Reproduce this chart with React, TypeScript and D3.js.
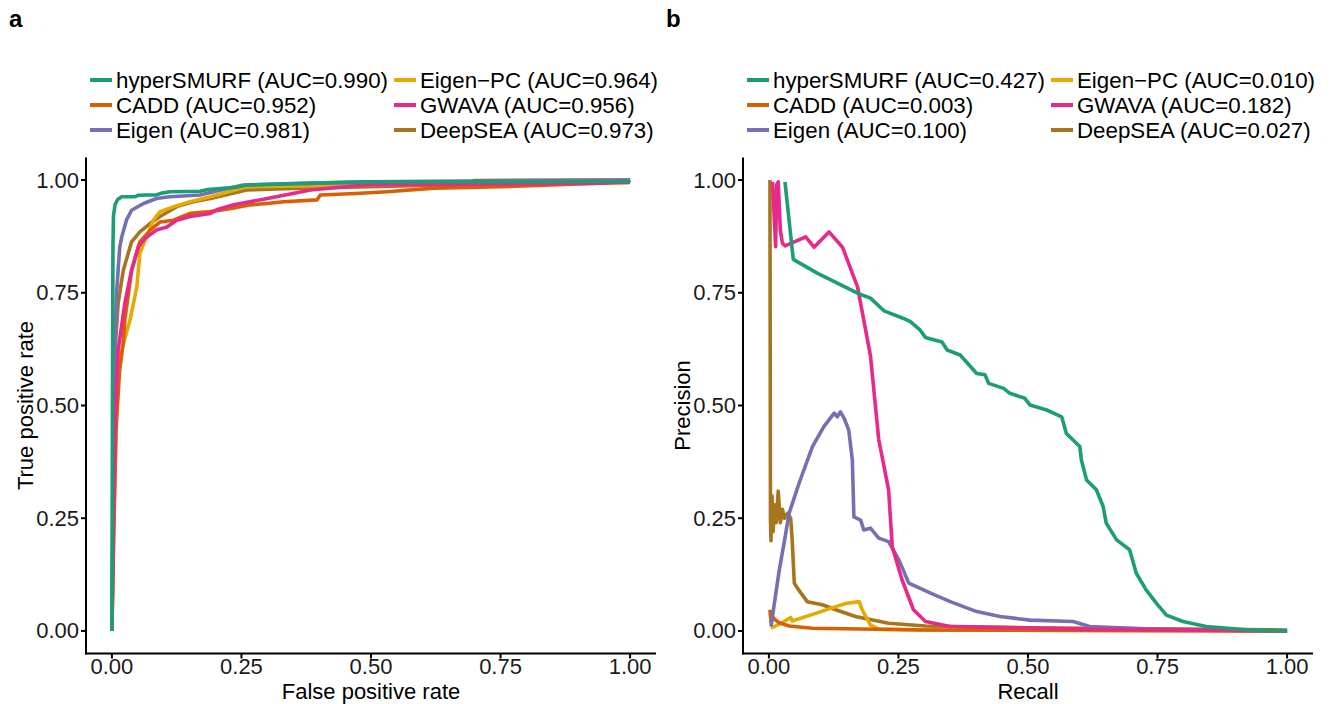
import * as d3 from "d3";

const methods = ["hyperSMURF", "CADD", "Eigen", "Eigen−PC", "GWAVA", "DeepSEA"];
const methodColors = ["#1B9E77", "#D95F02", "#7570B3", "#E6AB02", "#E7298A", "#A6761D"];
const rocAuc = ["0.990", "0.952", "0.981", "0.964", "0.956", "0.973"];
const prAuc = ["0.427", "0.003", "0.100", "0.010", "0.182", "0.027"];
const tickValues = [0, 0.25, 0.5, 0.75, 1];
const tickLabels = ["0.00", "0.25", "0.50", "0.75", "1.00"];

// ROC curves: [false positive rate, true positive rate]
const rocHyperSMURF: [number, number][] = [
  [0, 0], [0.001, 0.5], [0.002, 0.85], [0.003, 0.92], [0.006, 0.945], [0.011, 0.957],
  [0.019, 0.963], [0.045, 0.963], [0.05, 0.966], [0.067, 0.967], [0.085, 0.967],
  [0.096, 0.971], [0.112, 0.974], [0.17, 0.975], [0.185, 0.979], [0.209, 0.981],
  [0.24, 0.984], [0.26, 0.989], [0.364, 0.993], [0.486, 0.996], [0.996, 0.997], [1, 1],
];
const rocCADD: [number, number][] = [
  [0, 0], [0.004, 0.25], [0.008, 0.45], [0.015, 0.58], [0.022, 0.64], [0.025, 0.69],
  [0.038, 0.8], [0.054, 0.863], [0.074, 0.889], [0.093, 0.907], [0.119, 0.911],
  [0.135, 0.919], [0.151, 0.926], [0.19, 0.93], [0.23, 0.937], [0.267, 0.945],
  [0.3, 0.948], [0.331, 0.952], [0.396, 0.956], [0.402, 0.967], [0.47, 0.97],
  [0.531, 0.974], [0.621, 0.982], [0.75, 0.985], [0.944, 0.993], [1, 1],
];
const rocEigen: [number, number][] = [
  [0, 0], [0.002, 0.3], [0.005, 0.6], [0.009, 0.75], [0.012, 0.8], [0.015, 0.85],
  [0.019, 0.874], [0.028, 0.911], [0.038, 0.933], [0.061, 0.948], [0.086, 0.959],
  [0.112, 0.963], [0.17, 0.967], [0.2, 0.975], [0.253, 0.989], [0.364, 0.992],
  [0.5, 0.996], [1, 1],
];
const rocEigenPC: [number, number][] = [
  [0, 0], [0.003, 0.2], [0.008, 0.45], [0.012, 0.58], [0.019, 0.623], [0.035, 0.69],
  [0.048, 0.763], [0.054, 0.838], [0.067, 0.874], [0.08, 0.911], [0.093, 0.93],
  [0.119, 0.941], [0.151, 0.952], [0.19, 0.963], [0.26, 0.985], [0.486, 0.989],
  [1, 0.994],
];
const rocGWAVA: [number, number][] = [
  [0, 0], [0.003, 0.25], [0.006, 0.45], [0.009, 0.55], [0.012, 0.623], [0.025, 0.727],
  [0.038, 0.8], [0.051, 0.852], [0.064, 0.871], [0.086, 0.889], [0.106, 0.896],
  [0.125, 0.911], [0.151, 0.919], [0.19, 0.926], [0.202, 0.934], [0.235, 0.945],
  [0.3, 0.959], [0.383, 0.978], [0.486, 0.989], [0.944, 0.993], [1, 0.995],
];
const rocDeepSEA: [number, number][] = [
  [0, 0], [0.003, 0.3], [0.005, 0.55], [0.006, 0.623], [0.012, 0.727], [0.022, 0.8],
  [0.038, 0.863], [0.054, 0.885], [0.074, 0.904], [0.093, 0.919], [0.125, 0.941],
  [0.157, 0.952], [0.19, 0.959], [0.26, 0.978], [0.364, 0.982], [0.5, 0.985],
  [0.68, 0.99], [0.7, 0.999], [1, 1],
];

// PR curves: [recall, precision]
const prHyperSMURF: [number, number][] = [
  [0.031, 0.996], [0.047, 0.824], [0.094, 0.793], [0.171, 0.749], [0.196, 0.738],
  [0.222, 0.71], [0.26, 0.693], [0.273, 0.686], [0.292, 0.667], [0.302, 0.651],
  [0.334, 0.641], [0.344, 0.623], [0.369, 0.612], [0.401, 0.571], [0.417, 0.568],
  [0.424, 0.549], [0.453, 0.538], [0.465, 0.527], [0.494, 0.516], [0.504, 0.501],
  [0.536, 0.49], [0.565, 0.475], [0.574, 0.438], [0.6, 0.409], [0.603, 0.379],
  [0.613, 0.335], [0.632, 0.313], [0.645, 0.276], [0.651, 0.239], [0.671, 0.202],
  [0.696, 0.18], [0.709, 0.128], [0.728, 0.091], [0.748, 0.061], [0.767, 0.035],
  [0.799, 0.021], [0.844, 0.01], [0.927, 0.002], [1, 0],
];
const prCADD: [number, number][] = [
  [0.002, 0.047], [0.004, 0.02], [0.008, 0.03], [0.013, 0.024], [0.02, 0.018],
  [0.039, 0.011], [0.084, 0.006], [0.302, 0.002], [1, 0],
];
const prEigen: [number, number][] = [
  [0.004, 0.01], [0.02, 0.135], [0.03, 0.2], [0.039, 0.261], [0.058, 0.327],
  [0.084, 0.409], [0.106, 0.453], [0.126, 0.483], [0.132, 0.475], [0.138, 0.486],
  [0.145, 0.472], [0.154, 0.446], [0.161, 0.379], [0.164, 0.253], [0.177, 0.246],
  [0.183, 0.224], [0.196, 0.228], [0.212, 0.206], [0.231, 0.198], [0.251, 0.157],
  [0.27, 0.106], [0.312, 0.084], [0.35, 0.065], [0.401, 0.043], [0.446, 0.032],
  [0.504, 0.024], [0.587, 0.021], [0.619, 0.01], [0.735, 0.004], [1, 0],
];
const prEigenPC: [number, number][] = [
  [0.004, 0.006], [0.02, 0.015], [0.042, 0.03], [0.045, 0.022], [0.09, 0.039],
  [0.129, 0.054], [0.148, 0.061], [0.174, 0.065], [0.18, 0.047], [0.196, 0.013],
  [0.212, 0.004], [0.302, 0.002], [1, 0],
];
const prGWAVA: [number, number][] = [
  [0.007, 0.996], [0.013, 0.852], [0.015, 0.99], [0.018, 0.996], [0.022, 0.889],
  [0.026, 0.86], [0.031, 0.854], [0.071, 0.874], [0.087, 0.851], [0.116, 0.885],
  [0.142, 0.851], [0.171, 0.763], [0.196, 0.61], [0.212, 0.424], [0.231, 0.313],
  [0.238, 0.187], [0.257, 0.113], [0.279, 0.047], [0.302, 0.021], [0.35, 0.01],
  [0.6, 0.004], [1, 0],
];
const prDeepSEA: [number, number][] = [
  [0.002, 1.0], [0.003, 0.25], [0.004, 0.2], [0.006, 0.3], [0.008, 0.22], [0.011, 0.28],
  [0.014, 0.24], [0.018, 0.31], [0.022, 0.24], [0.026, 0.27], [0.03, 0.25],
  [0.036, 0.261], [0.042, 0.25], [0.045, 0.2], [0.049, 0.106], [0.055, 0.095],
  [0.062, 0.084], [0.074, 0.065], [0.103, 0.058], [0.129, 0.047], [0.167, 0.032],
  [0.231, 0.017], [0.302, 0.011], [0.5, 0.007], [1, 0.002],
];

const rocCurves = [rocHyperSMURF, rocCADD, rocEigen, rocEigenPC, rocGWAVA, rocDeepSEA];
const prCurves = [prHyperSMURF, prCADD, prEigen, prEigenPC, prGWAVA, prDeepSEA];
const drawOrder = [5, 3, 1, 2, 4, 0];

const FONT = "'Liberation Sans', Arial, Helvetica, sans-serif";
const PANEL_W = 570;
const PANEL_TOP = 157.5;
const PANEL_BOTTOM = 653.5;

type PanelProps = {
  left: number;
  tag: string;
  curves: [number, number][][];
  auc: string[];
  xTitle: string;
  yTitle: string;
};

function Panel({ left, tag, curves, auc, xTitle, yTitle }: PanelProps) {
  const x = d3.scaleLinear().domain([-0.05, 1.05]).range([left, left + PANEL_W]);
  const y = d3.scaleLinear().domain([-0.05, 1.05]).range([PANEL_BOTTOM, PANEL_TOP]);
  const line = d3
    .line<[number, number]>()
    .x((d) => x(d[0]))
    .y((d) => y(d[1]));

  // legend: two columns filled by column
  const legendX = left + 4;
  const colStep = 304;
  const rowY = [80, 105, 130];

  return (
    <g fontFamily={FONT}>
      <text x={left - 77} y={27} fontSize={24} fontWeight="bold">
        {tag}
      </text>

      {methods.map((m, i) => {
        const col = Math.floor(i / 3);
        const row = i % 3;
        const kx = legendX + col * colStep;
        return (
          <g key={m}>
            <line
              x1={kx}
              x2={kx + 22}
              y1={rowY[row]}
              y2={rowY[row]}
              stroke={methodColors[i]}
              strokeWidth={4}
            />
            <text x={kx + 26} y={rowY[row]} dominantBaseline="central" fontSize={22.3} fill="#000">
              {`${m} (AUC=${auc[i]})`}
            </text>
          </g>
        );
      })}

      {drawOrder.map((i) => (
        <path
          key={methods[i]}
          d={line(curves[i]) || ""}
          fill="none"
          stroke={methodColors[i]}
          strokeWidth={3.6}
          strokeLinejoin="round"
        />
      ))}

      {/* axes */}
      <line x1={left} x2={left} y1={PANEL_TOP} y2={PANEL_BOTTOM + 1} stroke="#000" strokeWidth={2} />
      <line x1={left - 1} x2={left + PANEL_W} y1={PANEL_BOTTOM} y2={PANEL_BOTTOM} stroke="#000" strokeWidth={2} />
      {tickValues.map((t, i) => (
        <g key={"y" + t}>
          <line x1={left - 5} x2={left} y1={y(t)} y2={y(t)} stroke="#000" strokeWidth={2} />
          <text
            x={left - 7}
            y={y(t)}
            textAnchor="end"
            dominantBaseline="central"
            fontSize={22}
            fill="#1a1a1a"
          >
            {tickLabels[i]}
          </text>
        </g>
      ))}
      {tickValues.map((t, i) => (
        <g key={"x" + t}>
          <line x1={x(t)} x2={x(t)} y1={PANEL_BOTTOM} y2={PANEL_BOTTOM + 5} stroke="#000" strokeWidth={2} />
          <text
            x={x(t)}
            y={PANEL_BOTTOM + 13}
            textAnchor="middle"
            dominantBaseline="central"
            fontSize={22}
            fill="#1a1a1a"
          >
            {tickLabels[i]}
          </text>
        </g>
      ))}
      <text
        x={x(0.5)}
        y={PANEL_BOTTOM + 38}
        textAnchor="middle"
        dominantBaseline="central"
        fontSize={22}
      >
        {xTitle}
      </text>
      <text
        transform={`translate(${left - 61},${(PANEL_TOP + PANEL_BOTTOM) / 2}) rotate(-90)`}
        textAnchor="middle"
        dominantBaseline="central"
        fontSize={22}
      >
        {yTitle}
      </text>
    </g>
  );
}

export default function App() {
  return (
    <div style={{ position: "absolute", left: 0, top: 0 }}>
      <svg width={1332} height={704} style={{ display: "block", background: "#fff" }}>
        <Panel
          left={86}
          tag="a"
          curves={rocCurves}
          auc={rocAuc}
          xTitle="False positive rate"
          yTitle="True positive rate"
        />
        <Panel
          left={743}
          tag="b"
          curves={prCurves}
          auc={prAuc}
          xTitle="Recall"
          yTitle="Precision"
        />
      </svg>
    </div>
  );
}
